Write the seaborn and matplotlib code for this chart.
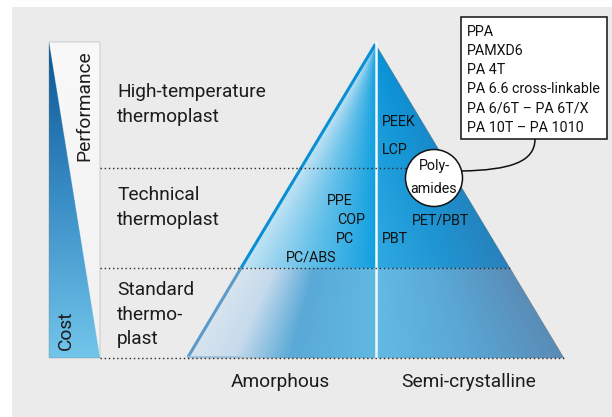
import numpy as np
import matplotlib
matplotlib.use("Agg")
import matplotlib.pyplot as plt
import seaborn as sns
from matplotlib.patches import Rectangle, Circle, PathPatch
from matplotlib.path import Path
from matplotlib.colors import to_rgb

# ---- content ----
tiers = ["High-temperature\nthermoplast", "Technical\nthermoplast", "Standard\nthermo-\nplast"]
axis_labels = ["Performance", "Cost"]
structure_labels = ["Amorphous", "Semi-crystalline"]
high_temp_semicryst = ["PEEK", "LCP"]
amorphous_technical = ["PPE", "COP", "PC", "PC/ABS"]
semicryst_technical = ["PET/PBT", "PBT"]
polyamide_label = "Poly-\namides"
polyamide_types = ["PPA", "PAMXD6", "PA 4T", "PA 6.6 cross-linkable",
                   "PA 6/6T – PA 6T/X", "PA 10T – PA 1010"]

sns.set_style("white")
plt.rcParams['font.family'] = ['Roboto', 'DejaVu Sans']

W, H = 612, 417
fig = plt.figure(figsize=(W / 100, H / 100), dpi=100)
fig.patch.set_facecolor("white")
ax = fig.add_axes([0, 0, 1, 1])
ax.set_xlim(0, W)
ax.set_ylim(H, 0)
ax.axis("off")


def stops_color(t, stops):
    pos = [s[0] for s in stops]
    cols = np.array([to_rgb(s[1]) for s in stops])
    out = np.zeros(t.shape + (3,))
    for c in range(3):
        out[..., c] = np.interp(t, pos, cols[:, c])
    return out


# background
ax.add_patch(Rectangle((12, 7), W - 12, H - 7, facecolor="#ebebeb", edgecolor="none", zorder=0))

S = 3
ys, xs = np.mgrid[0:H * S, 0:W * S] / S + 0.5 / S
img = np.zeros((H * S, W * S, 4))

# left performance / cost bar
bx0, bx1, by0, by1 = 49, 100, 42, 358
inbar = (xs >= bx0) & (xs <= bx1) & (ys >= by0) & (ys <= by1)
hyp = bx0 + (ys - by0) / (by1 - by0) * (bx1 - bx0)
blue = inbar & (xs <= hyp)
light = inbar & (xs > hyp)
v = np.clip((ys - by0) / (by1 - by0), 0, 1)
bcol = stops_color(v, [(0, "#0a5595"), (0.5, "#3a8ec6"), (1, "#72c5ea")])
lcol = stops_color(v, [(0, "#f9f9f9"), (1, "#f1f1f1")])
img[blue, :3] = bcol[blue]
img[blue, 3] = 1
img[light, :3] = lcol[light]
img[light, 3] = 1

# pyramid
ax_, ay_ = 375.5, 44
base_y, bl, br = 358, 187, 564
mid_y = 268
f = np.clip((ys - ay_) / (base_y - ay_), 0, 1)
xl = ax_ - f * (ax_ - bl)
xr = ax_ + f * (br - ax_)
inside = (ys >= ay_) & (ys <= base_y) & (xs >= xl) & (xs <= xr)
tL = np.clip((xs - xl) / np.maximum(ax_ - xl, 1e-6), 0, 1)
tR = np.clip((xs - ax_) / np.maximum(xr - ax_, 1e-6), 0, 1)
vv = np.clip((ys - ay_) / (mid_y - ay_), 0, 1)
upper = ys < mid_y
left = xs < ax_

ul = inside & upper & left
ur = inside & upper & ~left
ll = inside & ~upper & left
lr = inside & ~upper & ~left

c_ul = stops_color(tL, [(0, "#c4e4f5"), (0.45, "#6cc3ea"), (1, "#12a0e0")])
c_ur_base = stops_color(tR, [(0, "#30aae2"), (0.5, "#2196d3"), (1, "#2a80ba")])
c_top = np.array(to_rgb("#0893d8"))
wv = np.clip(vv, 0, 1)[..., None] ** 0.8
c_ur = c_top * (1 - wv) + c_ur_base * wv
c_ll = stops_color(tL, [(0, "#d8e4ef"), (0.25, "#c6dbec"), (0.55, "#5aa9d7"), (1, "#60b9e3")])
c_lr = stops_color(tR, [(0, "#62bbe5"), (0.5, "#5aa6d4"), (1, "#5a8cb6")])
for m, c in [(ul, c_ul), (ur, c_ur), (ll, c_ll), (lr, c_lr)]:
    img[m, :3] = c[m]
    img[m, 3] = 1

ax.imshow(img, extent=(0, W, H, 0), interpolation="antialiased", zorder=1, aspect="auto")

# pyramid outline on the left edge
x_mid = ax_ - (mid_y - ay_) / (base_y - ay_) * (ax_ - bl)
ax.plot([ax_, x_mid], [ay_, mid_y], color="#0a8fd4", lw=2.2, zorder=2, solid_capstyle="butt")
ax.plot([x_mid, bl + 1], [mid_y, base_y - 1], color="#5b9bc9", lw=2.2, zorder=2, solid_capstyle="butt")
ax.plot([bl + 1, 240], [base_y - 1, base_y - 1], color="#9cbfdc", lw=1.2, zorder=2)
# white separator
ax.plot([ax_, ax_], [ay_ - 2, base_y], color="#f4f8fb", lw=1.8, zorder=3)

# dotted tier lines
dot = dict(color="#2a2a2a", lw=1.0, linestyle=(0, (1, 2)), zorder=4)
ax.plot([100, 434], [168, 168], **dot)
ax.plot([100, 512], [268, 268], **dot)
ax.plot([100, 565], [358, 358], **dot)

BIG = 13.8
SMALL = 10.3
tc = "#1c1c1c"

# tier labels
tier_y = [92, 195, 290]
for lab, y0 in zip(tiers, tier_y):
    for i, line in enumerate(lab.split("\n")):
        ax.text(117, y0 + i * 24.5, line, fontsize=BIG, color=tc, va="center", ha="left", zorder=5)

# axis bar labels
ax.text(84, 106, axis_labels[0], rotation=90, fontsize=BIG, color=tc, va="center", ha="center", zorder=5)
ax.text(66, 330, axis_labels[1], rotation=90, fontsize=BIG, color=tc, va="center", ha="center", zorder=5)

# polymer labels
pf = dict(fontsize=SMALL, color="#111111", va="center", ha="left", zorder=5)
for lab, (x, y) in zip(high_temp_semicryst, [(382, 122), (382, 150)]):
    ax.text(x, y, lab, **pf)
for lab, (x, y) in zip(amorphous_technical, [(327, 201), (337, 220), (336, 239), (286, 257)]):
    ax.text(x, y, lab, **pf)
for lab, (x, y) in zip(semicryst_technical, [(412, 220), (382, 239)]):
    ax.text(x, y, lab, **pf)

# connector curve
verts = [(462, 171), (510, 170), (535, 162), (535, 139)]
codes = [Path.MOVETO, Path.CURVE4, Path.CURVE4, Path.CURVE4]
ax.add_patch(PathPatch(Path(verts, codes), facecolor="none", edgecolor="#111111", lw=1.1, zorder=6))

# polyamide circle
ax.add_patch(Circle((434, 178), 28.5, facecolor="white", edgecolor="#111111", lw=1.1, zorder=7))
for i, line in enumerate(polyamide_label.split("\n")):
    ax.text(434, 166 + i * 23, line, fontsize=SMALL, color="#111111", va="center", ha="center", zorder=8)

# polyamide box
ax.add_patch(Rectangle((461, 17), 146, 122, facecolor="white", edgecolor="#111111", lw=1.1, zorder=7))
for i, lab in enumerate(polyamide_types):
    ax.text(467, 32 + i * 19.1, lab, fontsize=SMALL, color="#111111", va="center", ha="left", zorder=8)

# structure labels
ax.text(280, 382, structure_labels[0], fontsize=BIG, color=tc, va="center", ha="center", zorder=5)
ax.text(469, 382, structure_labels[1], fontsize=BIG, color=tc, va="center", ha="center", zorder=5)

fig.savefig("out.png", dpi=100, facecolor="white")
